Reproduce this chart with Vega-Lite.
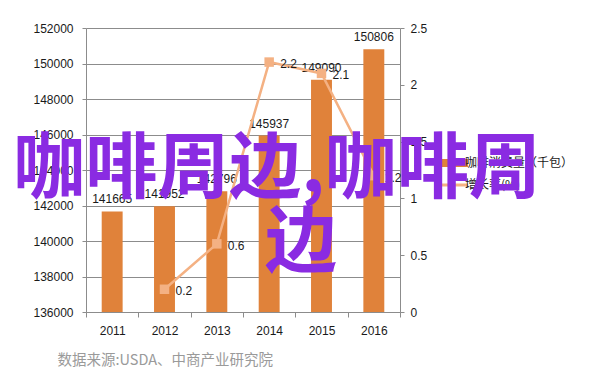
{
  "$schema": "https://vega.github.io/schema/vega-lite/v6.json",
  "autosize": {"type": "none"},
  "padding": {"left": 86, "top": 28, "right": 202, "bottom": 72},
  "width": 314,
  "height": 284,
  "background": "white",
  "config": {
    "view": {"stroke": null},
    "font": "Liberation Sans",
    "axis": {"labelFont": "Liberation Sans", "labelFontSize": 12, "labelColor": "#1a1a1a", "domainColor": "#8c8c8c", "tickColor": "#8c8c8c", "gridColor": "#8c8c8c"}
  },
  "title": {
    "text": ["咖啡周边,咖啡周\u2002\u2006\u200B", "边"],
    "orient": "top",
    "anchor": "middle",
    "frame": "group",
    "baseline": "top",
    "offset": 0,
    "dy": 259,
    "dx": 58,
    "font": "Noto Sans CJK SC",
    "fontWeight": "bold",
    "fontSize": 72,
    "lineHeight": 74,
    "color": "#8A2BE2"
  },
  "data": {
    "values": [
      {"year": "2011", "consumption": 141665, "growth": null},
      {"year": "2012", "consumption": 141952, "growth": 0.2},
      {"year": "2013", "consumption": 142796, "growth": 0.6},
      {"year": "2014", "consumption": 145937, "growth": 2.2},
      {"year": "2015", "consumption": 149090, "growth": 2.1},
      {"year": "2016", "consumption": 150806, "growth": 1.2}
    ]
  },
  "encoding": {
    "x": {
      "field": "year",
      "type": "ordinal",
      "scale": {"paddingInner": 0, "paddingOuter": 0},
      "axis": {
        "labelAngle": 0,
        "tickBand": "extent",
        "tickSize": 5,
        "labelPadding": 8,
        "domainColor": "#8c8c8c",
        "title": "数据来源:USDA、中商产业研究院",
        "titleAnchor": "start",
        "titleX": -29,
        "titleY": 52,
        "titleBaseline": "alphabetic",
        "titleFont": "Noto Sans CJK SC",
        "titleFontSize": 14.5,
        "titleFontWeight": "normal",
        "titleColor": "#9a9a9a"
      }
    }
  },
  "layer": [
    {
      "encoding": {
        "y": {
          "field": "consumption",
          "type": "quantitative",
          "scale": {"domain": [136000, 152000], "zero": false, "nice": false},
          "axis": {
            "orient": "left",
            "values": [136000, 138000, 140000, 142000, 144000, 146000, 148000, 150000, 152000],
            "format": "d",
            "title": null,
            "grid": true,
            "tickSize": 4,
            "labelPadding": 9
          }
        }
      },
      "layer": [
        {
          "mark": {"type": "bar", "width": {"band": 0.4}},
          "encoding": {
            "y2": {"datum": 136000},
            "color": {
              "datum": "咖啡消费量（千包）",
              "scale": {"domain": ["咖啡消费量（千包）", "增长率(%)"], "range": ["#E0823A", "#F4B183"]},
              "legend": {
                "title": null,
                "orient": "none",
                "legendX": 363,
                "legendY": 129,
                "symbolType": "stroke",
                "symbolSize": 676,
                "symbolStrokeWidth": 3,
                "rowPadding": -1,
                "labelOffset": 4,
                "labelFont": "Noto Sans CJK SC",
                "labelFontSize": 12,
                "labelColor": "#1a1a1a",
                "encode": {
                  "symbols": {"update": {"strokeWidth": {"signal": "datum.value === '咖啡消费量（千包）' ? 8 : 3"}}}
                }
              }
            }
          }
        },
        {
          "mark": {"type": "text", "baseline": "alphabetic", "dy": -8, "fontSize": 12, "color": "#1a1a1a", "font": "Liberation Sans"},
          "encoding": {"text": {"field": "consumption", "type": "quantitative", "format": "d"}}
        }
      ]
    },
    {
      "transform": [{"filter": "datum.growth != null"}],
      "encoding": {
        "y": {
          "field": "growth",
          "type": "quantitative",
          "scale": {"domain": [0, 2.5], "nice": false},
          "axis": {
            "orient": "right",
            "values": [0, 0.5, 1, 1.5, 2, 2.5],
            "format": "~g",
            "title": null,
            "grid": false,
            "tickSize": 4,
            "labelPadding": 6
          }
        }
      },
      "layer": [
        {
          "mark": {"type": "line", "strokeWidth": 2.5, "point": {"shape": "square", "size": 90, "filled": true, "opacity": 1}},
          "encoding": {"color": {"datum": "增长率(%)"}}
        },
        {
          "mark": {"type": "text", "align": "left", "baseline": "middle", "dx": 11, "dy": 2, "fontSize": 12, "color": "#1a1a1a", "font": "Liberation Sans"},
          "encoding": {"text": {"field": "growth", "type": "quantitative", "format": "~g"}}
        }
      ]
    }
  ],
  "resolve": {"scale": {"y": "independent"}}
}
